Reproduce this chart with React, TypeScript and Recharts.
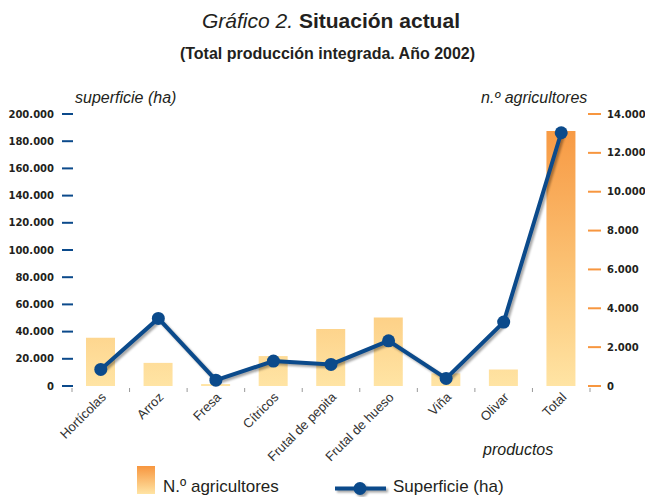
import { ComposedChart, Bar, Line, XAxis, YAxis } from 'recharts';

const productos = [
  'Hortícolas',
  'Arroz',
  'Fresa',
  'Cítricos',
  'Frutal de pepita',
  'Frutal de hueso',
  'Viña',
  'Olivar',
  'Total',
];
const agricultores = [2480, 1190, 100, 1540, 2930, 3530, 650, 850, 13120];
const superficie = [12200, 49700, 4300, 18300, 15900, 33200, 5600, 47000, 186200];

const superficieTicks = [0, 20000, 40000, 60000, 80000, 100000, 120000, 140000, 160000, 180000, 200000];
const agricultoresTicks = [0, 2000, 4000, 6000, 8000, 10000, 12000, 14000];

const data = productos.map((p, i) => ({
  producto: p,
  agricultores: agricultores[i],
  superficie: superficie[i],
}));

const BLUE = '#0b4a8b';
const ORANGE = '#f7963f';
const TEXT = '#231f20';
const SANS = "'Liberation Sans', Arial, sans-serif";
const NUM = "'DejaVu Sans', Verdana, sans-serif";

const W = 645;
const H = 497;
const PLOT_LEFT = 72;
const PLOT_RIGHT = 55;
const PLOT_TOP = 114;
const X_AXIS_H = 111;
const band = (W - PLOT_LEFT - PLOT_RIGHT) / productos.length;

const fmt = (v: number) => String(v).replace(/\B(?=(\d{3})+(?!\d))/g, '.');

function LeftTick({ x, y, payload }: any) {
  return (
    <g>
      <line x1={x - 10} x2={x + 1} y1={y} y2={y} stroke={BLUE} strokeWidth={2} />
      <text x={x - 18} y={y + 3.5} textAnchor="end" fontFamily={NUM} fontWeight="bold" fontSize={10} fill={TEXT}>
        {fmt(payload.value)}
      </text>
    </g>
  );
}

function RightTick({ x, y, payload }: any) {
  return (
    <g>
      <line x1={x - 2} x2={x + 11} y1={y} y2={y} stroke={ORANGE} strokeWidth={2} />
      <text x={x + 17} y={y + 3.5} textAnchor="start" fontFamily={NUM} fontWeight="bold" fontSize={10} fill={TEXT}>
        {fmt(payload.value)}
      </text>
    </g>
  );
}

function CatTick({ x, y, payload, index }: any) {
  const left = x - band / 2;
  const last = index === productos.length - 1;
  return (
    <g>
      <line x1={left} x2={left} y1={y + 2} y2={y + 6} stroke="#999" strokeWidth={1} />
      {last && <line x1={x + band / 2} x2={x + band / 2} y1={y + 2} y2={y + 6} stroke="#999" strokeWidth={1} />}
      <text
        x={x + 6}
        y={y + 12}
        textAnchor="end"
        transform={`rotate(-45 ${x + 6} ${y + 12})`}
        fontFamily={SANS}
        fontSize={13}
        fill="#333"
      >
        {payload.value}
      </text>
    </g>
  );
}

const label = (left: number, top: number, size: number, extra: any = {}) => ({
  position: 'absolute' as const,
  left,
  top,
  fontFamily: SANS,
  fontSize: size,
  color: TEXT,
  whiteSpace: 'nowrap' as const,
  lineHeight: 1,
  ...extra,
});

export default function App() {
  return (
    <div style={{ position: 'absolute', left: 0, top: 0, width: W, height: H, background: '#fff', overflow: 'hidden' }}>
      <style>{'.sup-line { filter: drop-shadow(2px 2px 1px rgba(0,0,0,0.35)); }'}</style>

      <div style={{ position: 'absolute', left: 0, width: W, top: 9, textAlign: 'center', fontFamily: SANS, fontSize: 21, color: TEXT, paddingLeft: 17, boxSizing: 'border-box' }}>
        <i>Gráfico 2.</i> <b>Situación actual</b>
      </div>
      <div style={{ position: 'absolute', left: 0, width: W, top: 45, textAlign: 'center', fontFamily: SANS, fontSize: 16, fontWeight: 'bold', color: TEXT, paddingLeft: 10, boxSizing: 'border-box' }}>
        (Total producción integrada. Año 2002)
      </div>

      <div style={label(75, 90, 16, { fontStyle: 'italic' })}>superficie (ha)</div>
      <div style={label(481, 90, 16, { fontStyle: 'italic' })}>n.º agricultores</div>
      <div style={label(483, 442, 16, { fontStyle: 'italic' })}>productos</div>

      <ComposedChart
        width={W}
        height={H}
        data={data}
        margin={{ top: PLOT_TOP, right: 0, bottom: 0, left: 0 }}
        style={{ position: 'absolute', left: 0, top: 0 }}
      >
        <defs>
          <linearGradient id="barGrad" gradientUnits="userSpaceOnUse" x1="0" y1={PLOT_TOP} x2="0" y2={H - X_AXIS_H}>
            <stop offset="0%" stopColor="#f7963f" />
            <stop offset="30%" stopColor="#f9ac5a" />
            <stop offset="65%" stopColor="#fcc97c" />
            <stop offset="100%" stopColor="#ffe4a4" />
          </linearGradient>
        </defs>
        <XAxis
          dataKey="producto"
          height={X_AXIS_H}
          axisLine={false}
          tickLine={false}
          tickSize={0}
          tickMargin={0}
          interval={0}
          tick={<CatTick />}
        />
        <YAxis
          yAxisId="left"
          orientation="left"
          width={PLOT_LEFT}
          domain={[0, 200000]}
          ticks={superficieTicks}
          axisLine={false}
          tickLine={false}
          tickSize={0}
          tickMargin={0}
          tick={<LeftTick />}
        />
        <YAxis
          yAxisId="right"
          orientation="right"
          width={PLOT_RIGHT}
          domain={[0, 14000]}
          ticks={agricultoresTicks}
          axisLine={false}
          tickLine={false}
          tickSize={0}
          tickMargin={0}
          tick={<RightTick />}
        />
        <Bar yAxisId="right" dataKey="agricultores" barSize={29} fill="url(#barGrad)" isAnimationActive={false} />
        <Line
          yAxisId="left"
          className="sup-line"
          dataKey="superficie"
          type="linear"
          stroke={BLUE}
          strokeWidth={4}
          dot={{ r: 6.5, fill: BLUE, stroke: BLUE, strokeWidth: 0 }}
          activeDot={false}
          isAnimationActive={false}
        />
      </ComposedChart>

      {/* legend */}
      <svg width={W} height={40} style={{ position: 'absolute', left: 0, top: 460 }}>
        <defs>
          <linearGradient id="legGrad" x1="0" y1="0" x2="0" y2="1">
            <stop offset="0%" stopColor="#f7963f" />
            <stop offset="100%" stopColor="#ffe4a4" />
          </linearGradient>
        </defs>
        <rect x={137} y={6} width={18} height={28} fill="url(#legGrad)" />
        <g style={{ filter: 'drop-shadow(2px 2px 1px rgba(0,0,0,0.35))' }}>
          <line x1={335} x2={386} y1={28.5} y2={28.5} stroke={BLUE} strokeWidth={4} />
          <circle cx={360} cy={28.5} r={6.5} fill={BLUE} />
        </g>
      </svg>
      <div style={label(163, 478, 17)}>N.º agricultores</div>
      <div style={label(393, 478, 17)}>Superficie (ha)</div>
    </div>
  );
}
